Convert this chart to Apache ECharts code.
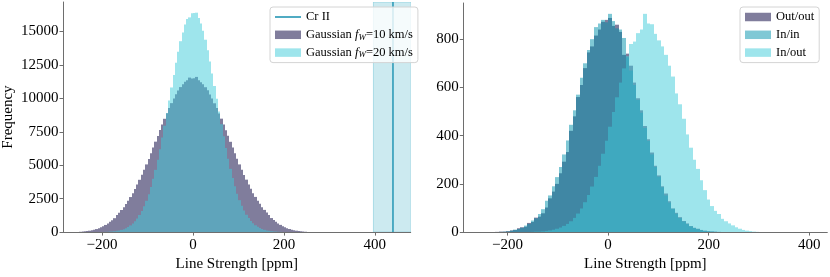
<!DOCTYPE html>
<html>
<head>
<meta charset="utf-8">
<script src="https://cdn.jsdelivr.net/npm/echarts@6/dist/echarts.min.js"></script>
<style>html,body{margin:0;padding:0;background:#fff;}#c{width:830px;height:277px;}</style>
</head>
<body>
<div id="c"></div>
<script>
// ---------------- data ----------------
const leftXTicks = [-200, 0, 200, 400];
const leftYTicks = [0, 2500, 5000, 7500, 10000, 12500, 15000];
const rightXTicks = [-200, 0, 200, 400];
const rightYTicks = [0, 200, 400, 600, 800];

// Left panel: Gaussian f_W=10 km/s histogram (bin width 5 ppm, first edge -265)
const g10Start = -265, g10Width = 5;
const g10Counts = [3,7,14,24,38,55,78,104,138,178,228,288,356,438,535,648,765,895,1040,1270,
  1450,1650,1860,2100,2350,2620,2910,3230,3560,3910,4280,4660,5060,5470,5890,6320,6760,7190,7630,8050,
  8470,8880,9270,9640,9990,10300,10590,10840,11050,11230,11360,11550,11480,11500,11600,11360,11200,11060,10830,10600,
  10290,9990,9630,9280,8870,8480,8050,7620,7200,6750,6330,5890,5480,5060,4670,4270,3920,3560,3240,2910,
  2630,2350,2110,1860,1660,1460,1280,1050,900,770,650,540,440,360,290,230,180,140,105,80,
  58,40,26,15,8,4];
// Left panel: Gaussian f_W=20 km/s histogram (bin width 5 ppm, first edge -205)
const g20Start = -205, g20Width = 5;
const g20Counts = [6,11,17,24,36,47,66,92,122,168,220,295,383,500,640,816,1022,1280,1578,1938,
  2345,2835,3368,3985,4655,5405,6200,7070,7955,8905,9840,10810,11735,12650,13480,14270,14920,15510,15920,16050,
  16350,16380,16400,16000,15600,15050,14380,13600,12760,11860,10920,9960,9010,8070,7160,6290,5480,4730,4040,3420,
  2870,2390,1970,1610,1300,1045,830,655,510,395,300,228,172,128,94,69,50,36,26,18,
  12,7];
// Cr II line strength and its uncertainty band
const crValue = 440;
const crBand = [397, 480];

// Right panel histograms (bin width 7 ppm)
const outStart = -224, binW = 7;
const outOutCounts = [1,2,2,4,7,9,16,20,22,38,42,60,64,78,102,140,168,200,244,292,
  332,420,480,560,610,680,745,770,815,840,872,880,888,855,860,830,735,740,690,620,
  555,505,440,385,330,275,235,190,160,128,98,80,62,46,36,25,18,14,9,6,
  4,3,2,1];
const inInStart = -217;
const inInCounts = [1,2,3,6,10,13,18,27,34,48,57,75,95,130,152,190,228,270,322,380,
  445,505,570,640,700,755,800,850,865,880,870,905,875,845,840,805,725,670,610,548,
  495,432,378,322,270,230,186,152,122,97,76,58,44,33,24,17,12,8,5,3,
  2,1];
const inOutStart = -154;
const inOutCounts = [1,2,2,3,5,7,10,14,19,26,34,45,59,77,98,124,154,189,229,275,
  325,379,437,498,559,620,679,730,780,790,825,840,905,865,862,822,795,770,735,690,
  645,575,530,470,405,350,300,262,215,174,135,108,88,75,55,45,36,28,20,14,
  9,6,4,2,1];

// ---------------- helpers ----------------
function toBins(start, w, counts) {
  return counts.map((v, i) => [start + i * w, start + (i + 1) * w, v]);
}
function histItem(params, api) {
  const p0 = api.coord([api.value(0), api.value(2)]);
  const p1 = api.coord([api.value(1), 0]);
  const x0 = Math.round(p0[0]), x1 = Math.round(p1[0]);
  return {
    type: 'rect',
    shape: { x: x0, y: p0[1], width: x1 - x0, height: p1[1] - p0[1] },
    style: { fill: api.visual('color') }
  };
}
function histSeries(name, xi, yi, start, w, counts, color) {
  return {
    type: 'custom', name: name, xAxisIndex: xi, yAxisIndex: yi,
    renderItem: histItem, clip: true,
    itemStyle: { color: color },
    encode: { x: [0, 1], y: 2 },
    data: toBins(start, w, counts), silent: true
  };
}

const FONT = 'Liberation Serif';
const AXC = '#6e6e6e';
const minus = v => String(v).replace('-', '\u2212');

function xAxis(gi, min, max, ticks) {
  return {
    type: 'value', gridIndex: gi, min: min, max: max,
    name: 'Line Strength [ppm]', nameLocation: 'middle', nameGap: 14,
    nameTextStyle: { fontFamily: FONT, fontSize: 15, color: '#000' },
    axisLine: { show: true, onZero: false, lineStyle: { color: AXC, width: 1 } },
    axisTick: { show: true, length: 3.5, lineStyle: { color: AXC }, customValues: ticks },
    axisLabel: { fontFamily: FONT, fontSize: 15, color: '#000', margin: 5, customValues: ticks, formatter: minus },
    splitLine: { show: false }
  };
}
function yAxis(gi, max, ticks, name) {
  return {
    type: 'value', gridIndex: gi, min: 0, max: max,
    name: name, nameLocation: 'middle', nameGap: 47,
    nameTextStyle: { fontFamily: FONT, fontSize: 15, color: '#000' },
    axisLine: { show: true, onZero: false, lineStyle: { color: AXC, width: 1 } },
    axisTick: { show: true, length: 3.5, lineStyle: { color: AXC }, customValues: ticks },
    axisLabel: { fontFamily: FONT, fontSize: 15, color: '#000', margin: 4.5, customValues: ticks,
      formatter: v => String(v) },
    splitLine: { show: false }
  };
}

const C_G10 = 'rgba(44,39,90,0.6)';
const C_G20 = 'rgba(61,203,217,0.5)';
const C_OO = 'rgba(44,39,90,0.6)';
const C_II = 'rgba(0,145,171,0.5)';
const C_IO = 'rgba(61,203,217,0.5)';
const C_CR = '#2496b4';
const C_BAND = 'rgba(100,190,210,0.33)';

const legendText = {
  fontFamily: FONT, fontSize: 12.5, color: '#000', lineHeight: 14,
  rich: {
    t: { fontFamily: FONT, fontSize: 12.5, color: '#000', lineHeight: 14 },
    i: { fontFamily: FONT, fontSize: 12.5, fontStyle: 'italic', color: '#000', lineHeight: 14 },
    s: { fontFamily: FONT, fontSize: 9, fontStyle: 'italic', color: '#000', lineHeight: 9, verticalAlign: 'bottom' }
  }
};
const legendBox = {
  orient: 'vertical', itemWidth: 26, itemHeight: 8.5, itemGap: 3.8, itemTextGap: 8,
  borderColor: '#d4d4d4', borderWidth: 1, borderRadius: 3,
  backgroundColor: 'rgba(255,255,255,0.8)', padding: [3, 5, 3, 5],
  textStyle: legendText, selectedMode: false
};

const crSeries = {
  type: 'custom', name: 'Cr II', xAxisIndex: 0, yAxisIndex: 0, clip: true, silent: true,
  itemStyle: { color: C_CR },
  encode: { x: [0, 1, 2] },
  data: [[crValue, crBand[0], crBand[1]]],
  renderItem: function (params, api) {
    const ymax = 17200;
    const a = api.coord([api.value(1), ymax]);
    const b = api.coord([api.value(2), 0]);
    const l0 = api.coord([api.value(0), ymax]);
    const l1 = api.coord([api.value(0), 0]);
    return {
      type: 'group', children: [
        { type: 'rect', shape: { x: a[0], y: a[1], width: b[0] - a[0], height: b[1] - a[1] },
          style: { fill: C_BAND, stroke: 'rgba(100,190,210,0.45)', lineWidth: 1 } },
        { type: 'line', shape: { x1: l0[0], y1: l0[1], x2: l1[0], y2: l1[1] },
          style: { stroke: C_CR, lineWidth: 1.5 } }
      ]
    };
  }
};

const option = {
  animation: false,
  backgroundColor: '#fff',
  grid: [
    { left: 63, top: 2, width: 347.7, height: 236 },
    { left: 463.3, top: 3, width: 364, height: 235 }
  ],
  xAxis: [xAxis(0, -286, 479, leftXTicks), xAxis(1, -288, 436, rightXTicks)],
  yAxis: [yAxis(0, 17200, leftYTicks, 'Frequency'), yAxis(1, 950, rightYTicks, '')],
  legend: [
    Object.assign({}, legendBox, {
      left: 270, top: 7,
      data: [
        { name: 'Cr II', icon: 'path://M0,0 L26,0 L26,1.6 L0,1.6 Z' },
        { name: 'Gaussian f_W=10 km/s', icon: 'rect' },
        { name: 'Gaussian f_W=20 km/s', icon: 'rect' }
      ],
      formatter: function (n) {
        if (n.indexOf('Gaussian') === 0) {
          const v = n.indexOf('10') > 0 ? '10' : '20';
          return '{t|Gaussian }{i|f}{s|W}{t|=' + v + ' km/s}';
        }
        return '{t|' + n + '}';
      }
    }),
    Object.assign({}, legendBox, {
      left: 740, top: 7,
      data: [
        { name: 'Out/out', icon: 'rect' },
        { name: 'In/in', icon: 'rect' },
        { name: 'In/out', icon: 'rect' }
      ]
    })
  ],
  series: [
    histSeries('Gaussian f_W=10 km/s', 0, 0, g10Start, g10Width, g10Counts, C_G10),
    histSeries('Gaussian f_W=20 km/s', 0, 0, g20Start, g20Width, g20Counts, C_G20),
    crSeries,
    histSeries('Out/out', 1, 1, outStart, binW, outOutCounts, C_OO),
    histSeries('In/in', 1, 1, inInStart, binW, inInCounts, C_II),
    histSeries('In/out', 1, 1, inOutStart, binW, inOutCounts, C_IO)
  ]
};
const chart = echarts.init(document.getElementById('c'), null, { renderer: 'canvas' });
chart.setOption(option);
</script>
</body>
</html>
